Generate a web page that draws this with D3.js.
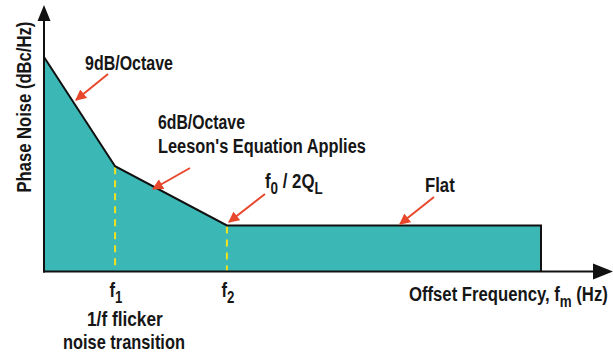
<!DOCTYPE html>
<html><head><meta charset="utf-8">
<script src="https://cdn.jsdelivr.net/npm/d3@7"></script>
<style>
html,body{margin:0;padding:0;background:#fff;}
svg{display:block;}
text{font-family:"Liberation Sans",Arial,sans-serif;font-weight:bold;fill:#161616;}
</style></head>
<body><svg id="c" width="613" height="356"></svg>
<script>
// ---- data (relative log-frequency position, relative phase-noise level) ----
const offsetFreq = [0, 14.3, 36.8, 100, 100];
const phaseNoise = [100, 49.1, 21.5, 21.5, 0];
const tickFreqs = [14.3, 36.8];
const tickLabels = [["f", "1"], ["f", "2"]];
const annotationTexts = ["9dB/Octave", "6dB/Octave", "Leeson's Equation Applies", "Flat"];
const yAxisTitle = "Phase Noise (dBc/Hz)";
const xAxisTitle = ["Offset Frequency, f", "m", " (Hz)"];
const cornerLabel = ["f", "0", " / 2Q", "L"];
const tickNote = ["1/f flicker", "noise transition"];

const svg = d3.select("#c");
const x = d3.scaleLinear().domain([0, 100]).range([44, 541]);
const y = d3.scaleLinear().domain([0, 100]).range([271.5, 57]);
const teal = "#3bb8b6", red = "#e8472c", yellow = "#f2e21e";

svg.append("defs").append("marker").attr("id", "ah")
  .attr("viewBox", "0 0 10 10").attr("refX", 9).attr("refY", 5)
  .attr("markerWidth", 5.5).attr("markerHeight", 5.5).attr("markerUnits", "strokeWidth")
  .attr("orient", "auto")
  .append("path").attr("d", "M0,0L10,5L0,10z").attr("fill", red);

const pts = offsetFreq.map((f, i) => [f, phaseNoise[i]]);
svg.append("path").datum(pts.slice(0, 4))
  .attr("d", d3.area().x(d => x(d[0])).y0(y(0)).y1(d => y(d[1])))
  .attr("fill", teal);
tickFreqs.forEach((f) => {
  const lvl = phaseNoise[offsetFreq.indexOf(f)];
  svg.append("line").attr("x1", x(f)).attr("x2", x(f))
    .attr("y1", y(lvl) + 1).attr("y2", y(0) - 1)
    .attr("stroke", yellow).attr("stroke-width", 2).attr("stroke-dasharray", "7,6");
});
svg.append("path").datum(pts)
  .attr("d", d3.line().x(d => x(d[0])).y(d => y(d[1])))
  .attr("fill", "none").attr("stroke", "#111").attr("stroke-width", 2);

// axes
svg.append("line").attr("x1", x(0)).attr("x2", x(0)).attr("y1", y(0) + 1).attr("y2", 19)
  .attr("stroke", "#111").attr("stroke-width", 2);
svg.append("path").attr("d", `M${x(0)},5L${x(0)+6.5},21L${x(0)-6.5},21Z`).attr("fill", "#111");
svg.append("line").attr("x1", x(0) - 1).attr("x2", 595).attr("y1", y(0)).attr("y2", y(0))
  .attr("stroke", "#111").attr("stroke-width", 2);
svg.append("path").attr("d", `M613,${y(0)}L593,${y(0)-8}L593,${y(0)+8}Z`).attr("fill", "#111");

// condensed text helper: parts = [text, sub?] alternating normal/subscript
function fitText(parts, px, py, width, size, anchor, rotate) {
  const g = svg.append("g");
  const t = g.append("text").attr("font-size", size);
  parts.forEach((p, i) => {
    const sub = i % 2 === 1;
    const ts = t.append("tspan").text(p);
    if (i > 0) ts.attr("dy", sub ? size * 0.28 : -size * 0.28);
    if (sub) ts.attr("font-size", size * 0.8);
  });
  const w = t.node().getBBox().width;
  const s = width / w;
  const ox = anchor === "middle" ? -width / 2 : (anchor === "end" ? -width : 0);
  g.attr("transform", `translate(${px},${py})` + (rotate ? ` rotate(${rotate})` : "") + ` translate(${ox},0) scale(${s},1)`);
  return g;
}

const fs = 20;
tickFreqs.forEach((f, i) => fitText(tickLabels[i], x(f) + 1, 297, 13, fs, "middle"));
fitText([tickNote[0]], 125, 326, 76, fs, "middle");
fitText([tickNote[1]], 124, 349, 122, fs, "middle");

fitText([yAxisTitle], 31, 107, 171, fs, "middle", -90);
fitText(xAxisTitle, 409, 301, 199, fs, "start");

fitText([annotationTexts[0]], 85, 70, 88, fs, "start");
fitText([annotationTexts[1]], 158, 129, 87, fs, "start");
fitText([annotationTexts[2]], 158, 153, 208, fs, "start");
fitText([annotationTexts[3]], 425, 192, 30, fs, "start");
fitText(cornerLabel, 265, 188, 58, fs, "start");

const arrows = [[108, 74, 76, 100], [190, 168, 153, 189], [265, 194, 229, 222], [434, 197, 400, 224]];
arrows.forEach(a => svg.append("line").attr("x1", a[0]).attr("y1", a[1]).attr("x2", a[2]).attr("y2", a[3])
  .attr("stroke", red).attr("stroke-width", 2).attr("marker-end", "url(#ah)"));
</script></body></html>
